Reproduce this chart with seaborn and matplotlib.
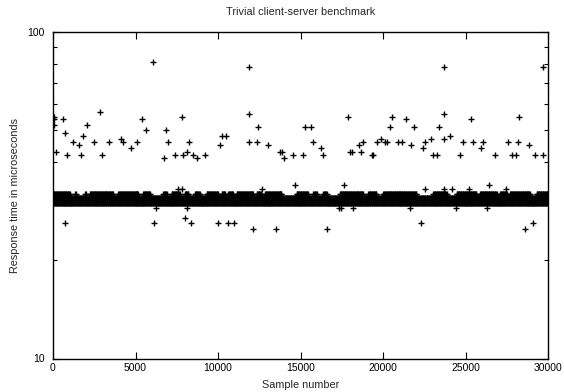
import numpy as np
import pandas as pd
import seaborn as sns
import matplotlib
matplotlib.use("Agg")
import matplotlib.pyplot as plt
from matplotlib.ticker import FixedLocator, LogLocator, NullFormatter, FixedFormatter

# isolated samples: (sample number, microseconds)
outlier_sample = [60, 60, 60, 182, 624, 709, 869, 1194, 1596, 1677, 1800, 2042, 2505, 2848,
                  2970, 3414, 4141, 4263, 4727, 5071, 5414, 5657, 6042, 6747, 6848, 6970,
                  7394, 7800, 7879, 8121, 8242, 8485, 8727, 9192, 10141, 10262, 10485,
                  11897, 11897, 11897, 12343, 12444, 13030, 13757, 13860, 13980, 14565,
                  15170, 15253, 15636, 15737, 16222, 16343, 17859, 18000, 18100, 18566,
                  18687, 18808, 19333, 19414, 19616, 19859, 20141, 20222, 20444, 20545,
                  20889, 21151, 21374, 21717, 21859, 22444, 22566, 22929, 23010, 23253,
                  23394, 23717, 23717, 23717, 24060, 24646, 24869, 25333, 25454, 25919,
                  26060, 26768, 27575, 27798, 28060, 28162, 28263, 28869, 29212, 29697, 29697]
outlier_time = [55, 54, 52, 43, 54, 49, 42, 46, 45, 42, 48, 52, 46, 57,
                42, 46, 47, 46, 44, 46, 54, 50, 81, 41, 50, 46,
                42, 55, 42, 43, 46, 42, 41, 42, 45, 48, 48,
                78, 56, 46, 46, 51, 45, 43, 43, 41, 42,
                42, 51, 51, 46, 44, 42, 55, 43, 43, 45,
                43, 46, 42, 42, 46, 47, 46, 46, 51, 55,
                46, 46, 54, 45, 51, 44, 46, 47, 42, 42,
                51, 78, 56, 47, 48, 42, 46, 54, 46, 44,
                46, 42, 46, 42, 42, 46, 55, 45, 42, 78, 42]

near_sample = [7556, 7800, 12687, 22566, 23717, 24182, 25232, 27455,
               14687, 17656, 26404,
               6242, 8121, 17353, 17434, 18202, 21616, 24404, 26283,
               8000,
               727, 6141, 8364, 10020, 10586, 10949, 22323, 29111,
               12101, 13515, 16586, 28626]
near_time = [33] * 8 + [34] * 3 + [29] * 8 + [27] + [26] * 8 + [25] * 4

# the dense band: levels 30 and 31 everywhere, 32 only in these stretches
band_levels = [30, 31]
level32_spans = [(0, 1030), (1333, 1400), (1939, 2000), (2242, 3657), (3960, 5170),
                 (5475, 5880), (6687, 6890), (7190, 7700), (8000, 8200), (8600, 8900),
                 (9313, 10020), (10222, 10424), (10626, 10929), (11130, 12140),
                 (12343, 12646), (12848, 13860), (14768, 15475), (15777, 15980),
                 (16383, 16586), (17394, 18808), (19111, 19616), (20020, 22040),
                 (23050, 23860), (24465, 25677), (25879, 26889), (27091, 27495),
                 (27697, 28909), (29313, 30000)]

step = 40
bx, by = [], []
for lev in band_levels:
    xs = np.arange(0, 30001, step)
    bx.extend(xs)
    by.extend([lev] * len(xs))
for a, b in level32_spans:
    xs = np.arange(a, b + 1, step)
    bx.extend(xs)
    by.extend([32] * len(xs))

df = pd.DataFrame({
    "sample": np.concatenate([bx, outlier_sample, near_sample]),
    "time": np.concatenate([by, outlier_time, near_time]),
})

sns.set_style("white")
plt.rcParams["font.family"] = ["Liberation Sans", "DejaVu Sans"]

fig = plt.figure(figsize=(5.64, 3.92), dpi=100)
ax = fig.add_axes([53 / 564, 1 - 358.5 / 392, 495 / 564, 326.5 / 392])

sns.scatterplot(data=df, x="sample", y="time", marker="+", color="black",
                s=16, linewidth=1.0, ax=ax, legend=False)

ax.set_yscale("log")
ax.set_xlim(0, 30000)
ax.set_ylim(10, 100)

ax.xaxis.set_major_locator(FixedLocator([0, 5000, 10000, 15000, 20000, 25000, 30000]))
ax.xaxis.set_major_formatter(FixedFormatter(["0", "5000", "10000", "15000", "20000", "25000", "30000"]))
ax.yaxis.set_major_locator(FixedLocator([10, 100]))
ax.yaxis.set_major_formatter(FixedFormatter(["10", "100"]))
ax.yaxis.set_minor_locator(LogLocator(base=10, subs=np.arange(2, 10)))
ax.yaxis.set_minor_formatter(NullFormatter())

ax.tick_params(axis="both", which="both", direction="in", top=True, right=True,
               bottom=True, left=True, colors="black", labelsize=7.5, width=0.8)
ax.tick_params(which="major", length=5, pad=3)
ax.tick_params(which="minor", length=3)
ax.tick_params(axis="y", which="major", pad=6)

for sp in ax.spines.values():
    sp.set_color("black")
    sp.set_linewidth(1.0)

ax.set_xlabel("Sample number", fontsize=7.8, labelpad=5)
ax.set_ylabel("Response time in microseconds", fontsize=7.8, labelpad=5)
ax.set_title("Trivial client-server benchmark", fontsize=7.8, pad=12)

fig.savefig("out.png", dpi=100)
